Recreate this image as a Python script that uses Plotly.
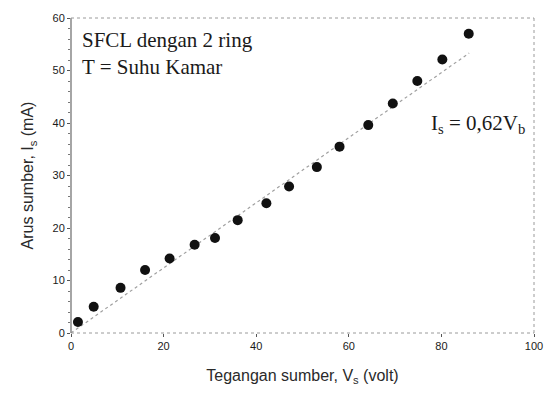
import plotly.graph_objects as go

# Data
v_source = [1.5, 4.9, 10.7, 16.0, 21.3, 26.7, 31.1, 36.0, 42.2, 47.1, 53.1, 58.0, 64.2, 69.5, 74.8, 80.2, 85.9]
i_source = [2.1, 5.0, 8.6, 12.0, 14.2, 16.8, 18.1, 21.5, 24.7, 27.9, 31.6, 35.5, 39.6, 43.7, 48.0, 52.1, 57.0]
fit_slope = 0.62
fit_v = [0, 86]
fit_i = [fit_slope * v for v in fit_v]

x_ticks = [0, 20, 40, 60, 80, 100]
y_ticks = [0, 10, 20, 30, 40, 50, 60]

fig = go.Figure()
fig.add_trace(go.Scatter(
    x=fit_v, y=fit_i, mode="lines",
    line=dict(color="#a0a0a0", width=1.2, dash="dot"),
    showlegend=False, hoverinfo="skip"))
fig.add_trace(go.Scatter(
    x=v_source, y=i_source, mode="markers",
    marker=dict(color="#111111", size=10),
    showlegend=False))

tick_font = dict(family="Liberation Sans, Arial", size=11, color="#1a1a1a")
title_font = dict(family="Liberation Sans, Arial", size=16, color="#2a2a2a")
axis_common = dict(
    showgrid=False, zeroline=False, showline=False,
    ticks="outside", ticklen=3, tickcolor="#555555", tickfont=tick_font,
)
fig.update_xaxes(range=[0, 100], tickvals=x_ticks, **axis_common,
                 title=dict(text="Tegangan sumber, V<sub>s</sub> (volt)", font=title_font, standoff=18))
fig.update_yaxes(range=[0, 60], tickvals=y_ticks, **axis_common,
                 minor=dict(ticks="outside", ticklen=2, tickcolor="#777777", dtick=2),
                 title=dict(text="Arus sumber, I<sub>s</sub> (mA)", font=title_font, standoff=14))

# Frame: solid left axis, dotted other sides
frame_dot = dict(color="#9a9a9a", width=1, dash="dot")
fig.add_shape(type="line", xref="paper", yref="paper", x0=0, x1=0, y0=0, y1=1,
              line=dict(color="#6a6a6a", width=1.2))
fig.add_shape(type="line", xref="paper", yref="paper", x0=0, x1=1, y0=0, y1=0, line=frame_dot)
fig.add_shape(type="line", xref="paper", yref="paper", x0=0, x1=1, y0=1, y1=1, line=frame_dot)
fig.add_shape(type="line", xref="paper", yref="paper", x0=1, x1=1, y0=0, y1=1, line=frame_dot)

fig.add_annotation(x=0.02, y=0.975, xref="paper", yref="paper", xanchor="left", yanchor="top",
                   text="SFCL dengan 2 ring<br>T = Suhu Kamar", showarrow=False, align="left",
                   font=dict(family="Liberation Serif, Times New Roman", size=21, color="#1a1a1a"))
fig.add_annotation(x=0.985, y=0.665, xref="paper", yref="paper", xanchor="right", yanchor="middle",
                   text="I<sub>s</sub> = 0,62V<sub>b</sub>", showarrow=False,
                   font=dict(family="Liberation Serif, Times New Roman", size=21, color="#1a1a1a"))

fig.update_layout(
    width=555, height=396,
    margin=dict(l=71, r=16, t=13, b=63),
    paper_bgcolor="white", plot_bgcolor="white",
)
fig.write_html("out.html")
